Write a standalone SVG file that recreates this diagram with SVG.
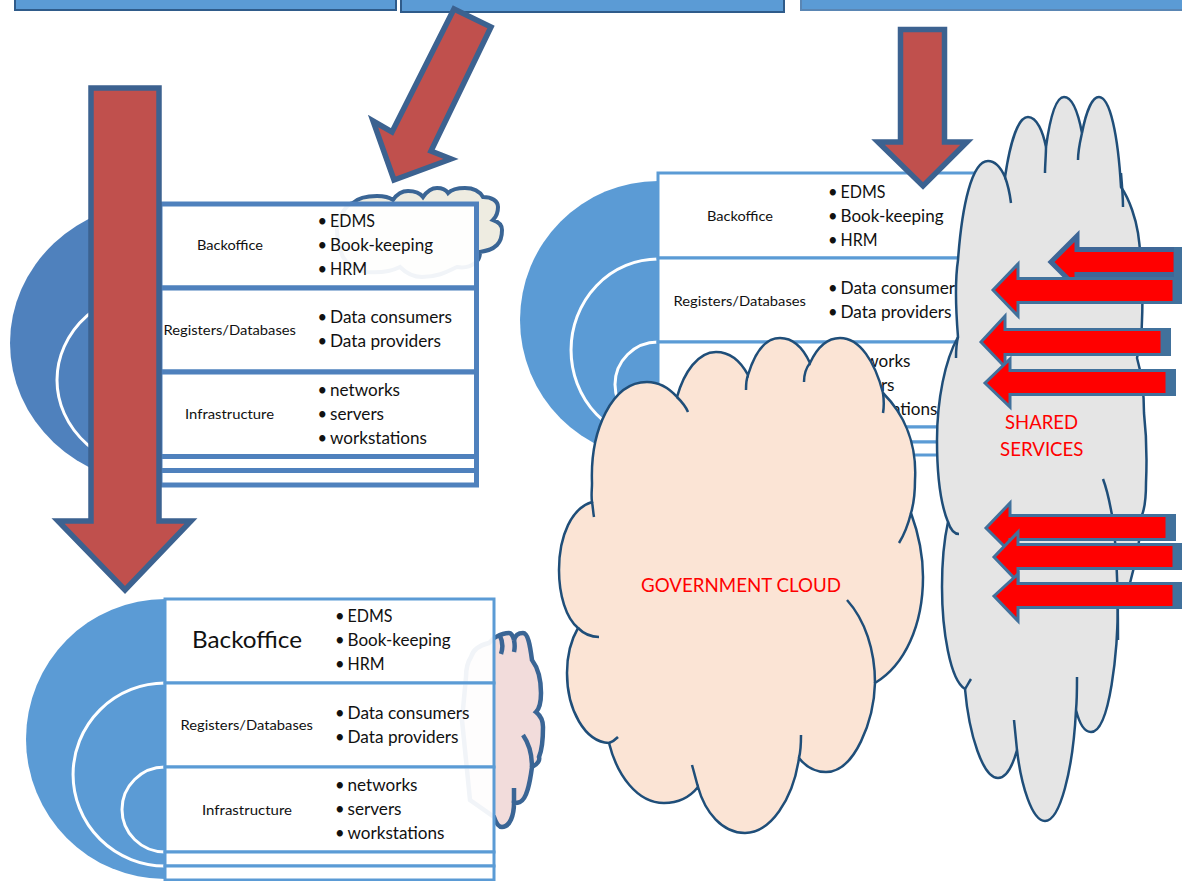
<svg xmlns="http://www.w3.org/2000/svg" width="1182" height="881" viewBox="0 0 1182 881">
<style>
text{font-family:"Lato","Carlito","Noto Sans",sans-serif;fill:#111}
.l{font-size:14px}
.b{font-size:16.5px}
.r{fill:#ff0000;font-size:20px}
.row1{fill:#fff;fill-opacity:.93;stroke:#4f81bd;stroke-width:5}
.row2{fill:#fff;fill-opacity:.93;stroke:#5b9bd5;stroke-width:3}
.ring{fill:none;stroke:#fff;stroke-width:3}
.bar{fill:#5b9bd5}
.big{fill:#c0504d;stroke:#3c6290;stroke-width:5.5;stroke-linejoin:miter}
.red{fill:#ff0000;stroke:#41719c;stroke-width:3;stroke-linejoin:miter}
.end{fill:#41719c}
.c1{stroke:#1f4e79;stroke-width:2.5;fill:none}
.c2{stroke:#3a6595;stroke-width:4.5;fill:none}
</style>
<g id="top-bars">
<rect class="bar" x="15" y="-5" width="381" height="15" stroke="#2f5b8a" stroke-width="2"/>
<rect class="bar" x="401" y="-5" width="383" height="17" stroke="#2f5b8a" stroke-width="2"/>
<rect class="bar" x="801" y="-5" width="385" height="15" stroke="#5a86b4" stroke-width="2"/>
</g>
<g id="stack-left">
<path d="M160,202A150,141 0 0 0 160,484Z" fill="#4f81bd"/>
<path class="ring" d="M160,289A103,91 0 0 0 160,471"/>
<path d="M337,230C340,215 345,205 353,203C358,198 368,196 377,196C384,196 389,197 393,200C397,194 402,191 408,191C415,191 420,193 423,197C428,190 432,188 437,188C442,188 446,190 448,193C452,189 458,188 465,188C474,188 480,192 483,197C492,197 498,201 498,207C498,213 496,217 493,220C499,222 502,226 502,230C502,238 499,243 497,245C492,250 486,251 480,252C480,258 478,261 475,263C470,267 463,268 457,267C450,270 440,277 422,277C412,277 405,272 400,267C390,272 378,273 367,272C355,270 347,264 343,257C339,248 337,240 337,230Z" fill="#eeece1" stroke="#3a6595" stroke-width="4"/>
<rect class="row1" x="160" y="204" width="316.500" height="84"/>
<rect class="row1" x="160" y="288" width="316.500" height="84"/>
<rect class="row1" x="160" y="372" width="316.500" height="84.500"/>
<rect class="row1" x="160" y="456.500" width="316.500" height="14"/>
<rect class="row1" x="160" y="470.500" width="316.500" height="14.500"/>
<text class="l" x="197" y="250" textLength="66" lengthAdjust="spacingAndGlyphs">Backoffice</text>
<text class="l" x="163.500" y="335" textLength="132.500" lengthAdjust="spacingAndGlyphs">Registers/Databases</text>
<text class="l" x="185" y="419" textLength="89" lengthAdjust="spacingAndGlyphs">Infrastructure</text>
<text x="317.500" y="227" class="b">•</text><text x="330" y="227" class="b" textLength="45" lengthAdjust="spacingAndGlyphs">EDMS</text>
<text x="317.500" y="251" class="b">•</text><text x="330" y="251" class="b" textLength="103" lengthAdjust="spacingAndGlyphs">Book-keeping</text>
<text x="317.500" y="275" class="b">•</text><text x="330" y="275" class="b" textLength="37" lengthAdjust="spacingAndGlyphs">HRM</text>
<text x="317.500" y="323" class="b">•</text><text x="330" y="323" class="b" textLength="122" lengthAdjust="spacingAndGlyphs">Data consumers</text>
<text x="317.500" y="347" class="b">•</text><text x="330" y="347" class="b" textLength="111" lengthAdjust="spacingAndGlyphs">Data providers</text>
<text x="317.500" y="396" class="b">•</text><text x="330" y="396" class="b" textLength="70" lengthAdjust="spacingAndGlyphs">networks</text>
<text x="317.500" y="420" class="b">•</text><text x="330" y="420" class="b" textLength="54" lengthAdjust="spacingAndGlyphs">servers</text>
<text x="317.500" y="444" class="b">•</text><text x="330" y="444" class="b" textLength="97" lengthAdjust="spacingAndGlyphs">workstations</text>
</g>
<g id="stack-bottom">
<path d="M165,599A139,140 0 0 0 165,879Z" fill="#5b9bd5"/>
<path class="ring" d="M165,683A92,91.500 0 0 0 165,866"/>
<path class="ring" d="M165,767A43,42.500 0 0 0 165,852"/>
<path d="M489,643C480,645 473,650 471,657C467,663 466,670 466,677L462,720L470,800L494,817C496,823 499,827 502,827C510,827 514,815 514,803C516,803 518,803 520,802C527,799 530,782 532,767C538,764 540,760 539,757C542,750 543,738 543,727C543,720 541,716 536,712C540,708 541,700 541,693C541,680 538,668 532,660C530,645 528,633 523,633C518,633 515,636 514,640C513,636 511,633 509,633C502,633 498,636 494,638Z" fill="#f2dcdb" stroke="#3a6595" stroke-width="4.500"/>
<path class="c2" d="M523,735C530,745 532,755 532,767M514,640C515,645 515,648 514,652M500,636C503,642 503,648 501,654M514,803C514,798 514,793 514,788"/>
<rect class="row2" x="165" y="599" width="329" height="84"/>
<rect class="row2" x="165" y="683" width="329" height="84"/>
<rect class="row2" x="165" y="767" width="329" height="85"/>
<rect class="row2" x="165" y="852" width="329" height="14"/>
<rect class="row2" x="165" y="866" width="329" height="14"/>
<text x="192" y="648" style="font-size:24px" textLength="110" lengthAdjust="spacingAndGlyphs">Backoffice</text>
<text class="l" x="180.500" y="730" textLength="132.500" lengthAdjust="spacingAndGlyphs">Registers/Databases</text>
<text class="l" x="202" y="815" textLength="90" lengthAdjust="spacingAndGlyphs">Infrastructure</text>
<text x="335" y="622" class="b">•</text><text x="347.500" y="622" class="b" textLength="45" lengthAdjust="spacingAndGlyphs">EDMS</text>
<text x="335" y="646" class="b">•</text><text x="347.500" y="646" class="b" textLength="103" lengthAdjust="spacingAndGlyphs">Book-keeping</text>
<text x="335" y="670" class="b">•</text><text x="347.500" y="670" class="b" textLength="37" lengthAdjust="spacingAndGlyphs">HRM</text>
<text x="335" y="719" class="b">•</text><text x="347.500" y="719" class="b" textLength="122" lengthAdjust="spacingAndGlyphs">Data consumers</text>
<text x="335" y="743" class="b">•</text><text x="347.500" y="743" class="b" textLength="111" lengthAdjust="spacingAndGlyphs">Data providers</text>
<text x="335" y="791" class="b">•</text><text x="347.500" y="791" class="b" textLength="70" lengthAdjust="spacingAndGlyphs">networks</text>
<text x="335" y="815" class="b">•</text><text x="347.500" y="815" class="b" textLength="54" lengthAdjust="spacingAndGlyphs">servers</text>
<text x="335" y="839" class="b">•</text><text x="347.500" y="839" class="b" textLength="97" lengthAdjust="spacingAndGlyphs">workstations</text>
</g>
<g id="stack-middle">
<path d="M658,181A138,139 0 0 0 658,459Z" fill="#5b9bd5"/>
<path class="ring" d="M658,259A87,91 0 0 0 658,441"/>
<path class="ring" d="M658,342A43,42.500 0 0 0 658,427"/>
<rect class="row2" x="658" y="173" width="329" height="85"/>
<rect class="row2" x="658" y="258" width="329" height="84"/>
<rect class="row2" x="658" y="342" width="329" height="85"/>
<rect class="row2" x="658" y="427" width="329" height="15"/>
<rect class="row2" x="658" y="442" width="329" height="13"/>
<text class="l" x="707" y="221" textLength="66" lengthAdjust="spacingAndGlyphs">Backoffice</text>
<text class="l" x="673.500" y="306" textLength="132.500" lengthAdjust="spacingAndGlyphs">Registers/Databases</text>
<text x="828" y="198" class="b">•</text><text x="840.500" y="198" class="b" textLength="45" lengthAdjust="spacingAndGlyphs">EDMS</text>
<text x="828" y="222" class="b">•</text><text x="840.500" y="222" class="b" textLength="103" lengthAdjust="spacingAndGlyphs">Book-keeping</text>
<text x="828" y="246" class="b">•</text><text x="840.500" y="246" class="b" textLength="37" lengthAdjust="spacingAndGlyphs">HRM</text>
<text x="828" y="294" class="b">•</text><text x="840.500" y="294" class="b" textLength="122" lengthAdjust="spacingAndGlyphs">Data consumers</text>
<text x="828" y="318" class="b">•</text><text x="840.500" y="318" class="b" textLength="111" lengthAdjust="spacingAndGlyphs">Data providers</text>
<text x="840.500" y="367" class="b" textLength="70" lengthAdjust="spacingAndGlyphs">networks</text>
<text x="840.500" y="391" class="b" textLength="54" lengthAdjust="spacingAndGlyphs">servers</text>
<text x="840.500" y="415" class="b" textLength="97" lengthAdjust="spacingAndGlyphs">workstations</text>
</g>
<g id="government-cloud">
<path d="M592,483C590,430 612,382 647,382C658,382 669,388 677,397C684,372 698,352 716,352C730,352 741,362 748,375C754,355 764,338 780,338C794,338 804,350 810,363C816,350 826,338 840,338C860,338 875,362 883,393C905,415 917,445 915,480C915,490 914,503 911,513C919,535 923,555 923,577C923,625 905,665 875,683C874,720 855,772 826,772C815,772 806,767 799,758C793,800 770,833 745,833C722,833 705,812 698,787C690,797 678,803 664,803C637,803 617,775 609,743C585,742 567,710 567,673C567,655 571,640 578,628C566,618 559,595 559,570C559,535 572,508 592,502C591,495 592,490 592,483Z" fill="#fbe4d5" stroke="#1f4e79" stroke-width="2.500"/>
<path class="c1" d="M677,397C682,402 686,407 688,412M748,375C746,380 746,385 746,390M810,363C806,368 804,375 804,382M883,393C884,400 884,407 883,413M911,513C908,525 904,535 899,543M875,683C875,650 865,620 847,600M799,758C801,750 801,742 801,735M698,787C696,780 694,772 692,765M609,743C612,742 615,740 618,737M578,628C584,634 591,637 599,637M592,502C593,507 593,512 594,517"/>
<text class="r" x="641" y="592" textLength="200" lengthAdjust="spacingAndGlyphs">GOVERNMENT CLOUD</text>
</g>
<g id="shared-services-cloud">
<path d="M937,440C937,400 945,360 958,337C955,300 955,280 958,260C962,205 972,161 988,161C995,161 1001,168 1005,177C1010,143 1018,117 1028,117C1037,117 1043,132 1046,147C1050,118 1056,97 1064,97C1072,97 1078,112 1082,133C1086,112 1092,97 1099,97C1110,97 1118,135 1121,187C1130,200 1136,220 1138,233C1142,260 1143,300 1142,320C1142,335 1140,345 1137,358C1142,375 1144,395 1144,413C1147,440 1147,460 1146,483C1146,500 1144,510 1142,515C1140,545 1135,565 1130,583L1118,600C1118,650 1110,732 1091,732C1084,732 1079,722 1076,710C1073,770 1060,821 1045,821C1032,821 1021,785 1017,750C1012,768 1006,778 998,778C983,778 969,735 965,689C950,680 942,630 942,587C942,560 944,540 948,522C941,505 937,475 937,440Z" fill="#e5e5e5" stroke="#1f4e79" stroke-width="2.500"/>
<path class="c1" d="M958,337C956,345 956,352 956,358M1005,177C1008,185 1010,195 1011,203M1046,147C1046,155 1045,165 1045,173M1082,133C1080,142 1078,150 1078,160M1121,173C1122,185 1123,197 1123,207M1103,479C1108,492 1110,505 1112,515C1117,545 1118,600 1118,640M1076,710C1077,700 1077,690 1077,677M1017,750C1016,740 1015,730 1014,720M965,689C967,686 969,682 971,679M948,522C950,528 954,534 959,534"/>
<text class="r" x="1005" y="429" textLength="73" lengthAdjust="spacingAndGlyphs">SHARED</text>
<text class="r" x="1000" y="456" textLength="83.500" lengthAdjust="spacingAndGlyphs">SERVICES</text>
</g>
<g id="connectors">
<polygon class="big" points="454,9 491,27 431,151 451,159 394,180 373,121 392,132"/>
<polygon class="big" points="91,88 159,88 159,521 191,521 125,590 58,521 91,521"/>
<polygon class="big" points="900.500,29.500 944.500,29.500 944.500,142 967,142 923,186 878,142 900.500,142"/>
<polygon class="red" style="stroke-width:5;stroke:#3f6797" points="1051,262 1077,236 1077,249.500 1176,249.500 1176,274.500 1077,274.500 1077,288"/>
<rect class="end" x="1174" y="247" width="8" height="30"/>
<polygon class="red" points="993,290 1018,264 1018,278.500 1174,278.500 1174,302.500 1018,302.500 1018,316"/>
<rect class="end" x="1174" y="277" width="8" height="27"/>
<polygon class="red" points="981,342 1005,316 1005,329.500 1162,329.500 1162,354.500 1005,354.500 1005,367"/>
<rect class="end" x="1162" y="328" width="9" height="28"/>
<polygon class="red" points="985,383 1010,359 1010,370.500 1167,370.500 1167,394.500 1010,394.500 1010,407"/>
<rect class="end" x="1167" y="369" width="9" height="27"/>
<polygon class="red" points="986,528 1010,503 1010,515.500 1167,515.500 1167,539.500 1010,539.500 1010,552"/>
<rect class="end" x="1167" y="514" width="9" height="27"/>
<polygon class="red" points="994,557 1018,532 1018,544.500 1174,544.500 1174,568.500 1018,568.500 1018,582"/>
<rect class="end" x="1174" y="543" width="8" height="27"/>
<polygon class="red" points="994,596 1018,574 1018,583.500 1174,583.500 1174,607.500 1018,607.500 1018,621"/>
<rect class="end" x="1174" y="582" width="8" height="27"/>
</g>
</svg>
